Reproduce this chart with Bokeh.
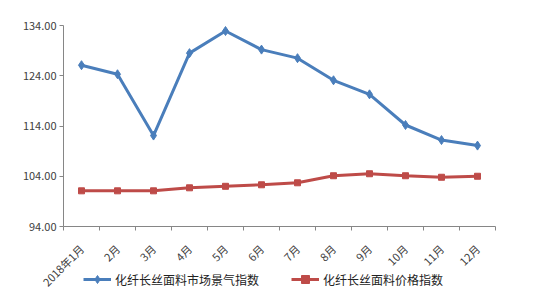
import math
from bokeh.plotting import figure
from bokeh.models import Range1d, FixedTicker, PrintfTickFormatter, Legend, LegendItem
from bokeh.embed import file_html
from bokeh.resources import INLINE

months = ["2018年1月", "2月", "3月", "4月", "5月", "6月", "7月", "8月", "9月", "10月", "11月", "12月"]
market_index = [126.1, 124.3, 112.1, 128.5, 132.9, 129.2, 127.5, 123.1, 120.3, 114.2, 111.2, 110.1]
price_index = [101.1, 101.1, 101.1, 101.7, 102.0, 102.3, 102.7, 104.1, 104.5, 104.1, 103.8, 104.0]
y_ticks = [94, 104, 114, 124, 134]
series_names = ["化纤长丝面料市场景气指数", "化纤长丝面料价格指数"]

FONT = "Noto Sans CJK SC"
BLUE = "#4A7EBB"
RED = "#BE4B48"
AXIS = "#868686"
TEXT = "#404040"

# page geometry (pixels): the frame fills the whole page, axes are pinned inside it
W, H = 560, 301
PLOT_L, PLOT_R, PLOT_T, PLOT_B = 63, 495, 25, 226
n = len(months)
Y_MIN, Y_MAX = y_ticks[0], y_ticks[-1]
ypx = (PLOT_B - PLOT_T) / (Y_MAX - Y_MIN)
xpx = (PLOT_R - PLOT_L) / n
x_range = Range1d(-PLOT_L / xpx, n + (W - PLOT_R) / xpx)
y_range = Range1d(Y_MIN - (H - PLOT_B) / ypx, Y_MAX + PLOT_T / ypx)

xs = [i + 0.5 for i in range(n)]

p = figure(frame_width=W, frame_height=H, output_backend="svg", toolbar_location=None,
           x_range=x_range, y_range=y_range,
           min_border_left=0, min_border_right=0, min_border_top=0, min_border_bottom=0)
p.outline_line_color = None
p.grid.visible = False
p.background_fill_color = "white"
p.border_fill_color = "white"

# y axis
ya = p.yaxis[0]
ya.fixed_location = 0
ya.bounds = (Y_MIN, Y_MAX)
ya.ticker = FixedTicker(ticks=y_ticks)
ya.formatter = PrintfTickFormatter(format="%.2f")
ya.axis_line_color = AXIS
ya.major_tick_line_color = AXIS
ya.major_tick_in = 0
ya.major_tick_out = 4
ya.minor_tick_line_color = None
ya.major_label_text_font = FONT
ya.major_label_text_font_size = "11px"
ya.major_label_text_color = TEXT
ya.major_label_standoff = 3

# x axis
xa = p.xaxis[0]
xa.fixed_location = Y_MIN
xa.bounds = (0, n)
xa.ticker = FixedTicker(ticks=xs, minor_ticks=list(range(n + 1)))
xa.major_label_overrides = {x: m for x, m in zip(xs, months)}
xa.axis_line_color = AXIS
xa.major_tick_line_color = None
xa.minor_tick_line_color = AXIS
xa.minor_tick_in = 0
xa.minor_tick_out = 4
xa.major_label_orientation = math.pi / 4
xa.major_label_text_font = FONT
xa.major_label_text_font_size = "11px"
xa.major_label_text_color = TEXT
xa.major_label_standoff = 14

l1 = p.line(xs, market_index, line_color=BLUE, line_width=3)
s1 = p.scatter(xs, market_index, marker="diamond", size=9, fill_color=BLUE, line_color=BLUE)
l2 = p.line(xs, price_index, line_color=RED, line_width=3)
s2 = p.scatter(xs, price_index, marker="square", size=6, fill_color=RED, line_color=RED)

legend = Legend(items=[LegendItem(label=series_names[0], renderers=[l1, s1]),
                       LegendItem(label=series_names[1], renderers=[l2, s2])],
                orientation="horizontal", location=(83, 12),
                label_text_font=FONT, label_text_font_size="12px", label_text_color="#222222",
                glyph_width=28, spacing=32, border_line_color=None, background_fill_alpha=0,
                label_standoff=4, padding=2, margin=0)
p.add_layout(legend)

open("out.html", "w").write(file_html(p, INLINE))
